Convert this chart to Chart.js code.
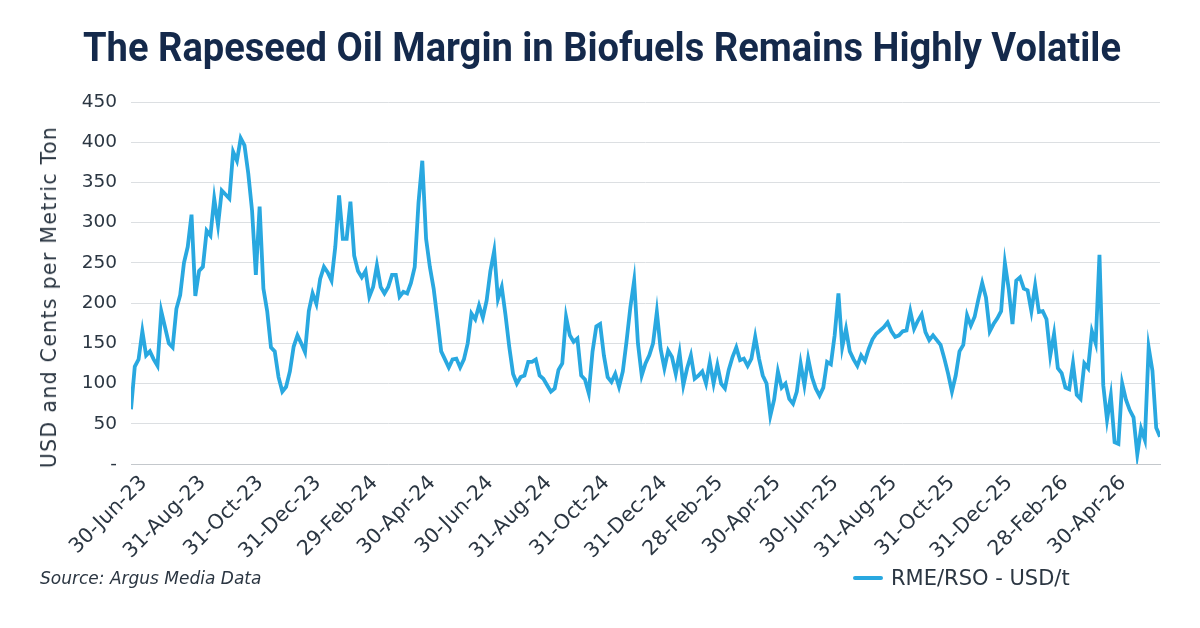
<!DOCTYPE html>
<html>
<head>
<meta charset="utf-8">
<script src="https://cdn.jsdelivr.net/npm/chart.js@4.4.1/dist/chart.umd.min.js"></script>
<style>
  html, body { margin: 0; padding: 0; background: #fff; }
  #wrap { position: relative; width: 1200px; height: 628px; overflow: hidden; }
  #title { position: absolute; left: 602px; top: 28px; white-space: nowrap; font: bold 40px/40px Roboto; color: #14294b; transform-origin: center; }
  #ytitle { position: absolute; left: 49px; top: 297px; white-space: nowrap; font: 20.5px/24px "DejaVu Sans"; letter-spacing: 1.3px; color: #2b3642; transform: translate(-50%, -50%) rotate(-90deg); }
  #source { position: absolute; left: 40px; top: 568px; font: italic 17px "DejaVu Sans"; color: #2b3642; }
  #legend { position: absolute; left: 853px; top: 566px; font: 21px "DejaVu Sans"; color: #2b3642; display: flex; align-items: center; }
  #legend .swatch { width: 30px; height: 4px; background: #29a8e0; margin-right: 8px; border-radius: 2px; }
</style>
</head>
<body>
<div id="wrap">
  <canvas id="chart" width="1200" height="628"></canvas>
  <div id="title"></div>
  <div id="ytitle"></div>
  <div id="source">Source: Argus Media Data</div>
  <div id="legend"><span class="swatch"></span><span id="legendText"></span></div>
</div>
<script>
// one reading every 4 days, starting 30-Jun-23
const startDate = "2023-06-30";
const stepDays = 4;
const margin = [
    68, 121, 130, 165, 135, 140, 130, 122, 190, 170,
    150, 145, 193, 210, 250, 270, 310, 209, 240, 245,
    290, 284, 330, 297, 340, 335, 330, 388, 377, 405,
    396, 361, 315, 235, 320, 218, 190, 145, 140, 108,
    90, 96, 115, 146, 160, 150, 139, 190, 212, 199,
    230, 245, 238, 228, 270, 334, 280, 280, 326, 259,
    240, 232, 240, 208, 220, 247, 220, 212, 220, 235,
    235, 208, 214, 212, 225, 245, 325, 377, 280, 245,
    218, 180, 140, 130, 120, 130, 131, 120, 130, 150,
    187, 180, 197, 182, 203, 240, 265, 205, 220, 185,
    145, 112, 100, 108, 110, 127, 127, 130, 110, 106,
    98, 90, 94, 117, 125, 183, 160, 152, 156, 110,
    105, 88, 140, 171, 174, 135, 108, 102, 112, 96,
    115, 153, 195, 228, 150, 110, 125, 135, 150, 189,
    143, 119, 141, 133, 112, 138, 98, 119, 135, 106,
    110, 115, 100, 127, 100, 123, 100, 94, 117, 133,
    145, 129, 131, 122, 131, 158, 131, 110, 100, 60,
    80, 115, 95, 100, 81, 75, 90, 125, 98, 131,
    108, 94, 85, 95, 127, 124, 160, 212, 145, 168,
    140, 130, 122, 135, 128, 143, 155, 162, 166, 170,
    176, 165, 158, 160, 165, 166, 190, 168, 178, 186,
    164, 154, 160, 154, 148, 131, 112, 90, 110, 140,
    148, 185, 172, 183, 205, 225, 207, 165, 174, 181,
    190, 250, 218, 174, 228, 232, 218, 216, 190, 222,
    189, 190, 180, 135, 162, 119, 113, 95, 93, 125,
    86, 81, 125, 119, 165, 150, 260, 98, 55, 85,
    27, 25, 100, 80, 67, 58, 12, 44, 30, 145,
    116, 45, 34
];
const tickDates = [
    "2023-06-30", "2023-08-31", "2023-10-31", "2023-12-31", "2024-02-29", "2024-04-30",
    "2024-06-30", "2024-08-31", "2024-10-31", "2024-12-31", "2025-02-28", "2025-04-30",
    "2025-06-30", "2025-08-31", "2025-10-31", "2025-12-31", "2026-02-28", "2026-04-30"
];
const seriesName = "RME/RSO - USD/t";
const titleText = "The Rapeseed Oil Margin in Biofuels Remains Highly Volatile";
const yTitle = "USD and Cents per Metric Ton";

const months = ["Jan","Feb","Mar","Apr","May","Jun","Jul","Aug","Sep","Oct","Nov","Dec"];
const DAY = 86400000;
const start = Date.parse(startDate);
const dayOf = (s) => Math.round((Date.parse(s) - start) / DAY);
const fmtDate = (s) => {
    const d = new Date(Date.parse(s));
    return d.getUTCDate() + "-" + months[d.getUTCMonth()] + "-" + String(d.getUTCFullYear()).slice(2);
};

// title is a condensed face in the original, so squeeze Roboto to the same width
const titleEl = document.getElementById("title");
titleEl.textContent = titleText;
const titleW = titleEl.getBoundingClientRect().width;
titleEl.style.transform = "translateX(-50%) scaleX(" + (1038 / titleW) + ")";
document.getElementById("ytitle").textContent = yTitle;
document.getElementById("legendText").textContent = seriesName;

const points = margin.map((v, i) => ({ x: i * stepDays, y: v }));
const lastDay = (margin.length - 1) * stepDays;

const textColor = "#2b3642";

new Chart(document.getElementById("chart"), {
    type: "line",
    data: {
        datasets: [{
            label: seriesName,
            data: points,
            borderColor: "#29a8e0",
            backgroundColor: "#29a8e0",
            borderWidth: 3.8,
            pointRadius: 0,
            tension: 0,
        }],
    },
    options: {
        responsive: false,
        animation: false,
        devicePixelRatio: 1,
        layout: { padding: { left: 36, right: 40, top: 102, bottom: 70 } },
        plugins: {
            legend: { display: false },
            tooltip: { enabled: false },
            title: { display: false },
        },
        scales: {
            x: {
                type: "linear",
                min: 0,
                max: lastDay,
                afterBuildTicks: (scale) => {
                    scale.ticks = tickDates.map((d) => ({ value: dayOf(d) }));
                },
                afterFit: (scale) => { scale.height = 94; },
                ticks: {
                    autoSkip: false,
                    maxRotation: 45,
                    minRotation: 45,
                    padding: -1,
                    labelOffset: 13,
                    color: textColor,
                    font: { family: "'DejaVu Sans'", size: 20.5 },
                    callback: (v, i) => fmtDate(tickDates[i]),
                },
                grid: { display: false },
                border: { display: true, color: "#c4c8cc", width: 1 },
            },
            y: {
                min: 0,
                max: 450,
                afterFit: (scale) => { scale.width = 95; },
                ticks: {
                    stepSize: 50,
                    padding: 14,
                    color: textColor,
                    font: { family: "'DejaVu Sans'", size: 18.5 },
                    callback: (v) => (v === 0 ? "-" : v),
                },
                grid: { color: "#dcdfe2", drawTicks: false },
                border: { display: false },
            },
        },
    },
});
</script>
</body>
</html>
